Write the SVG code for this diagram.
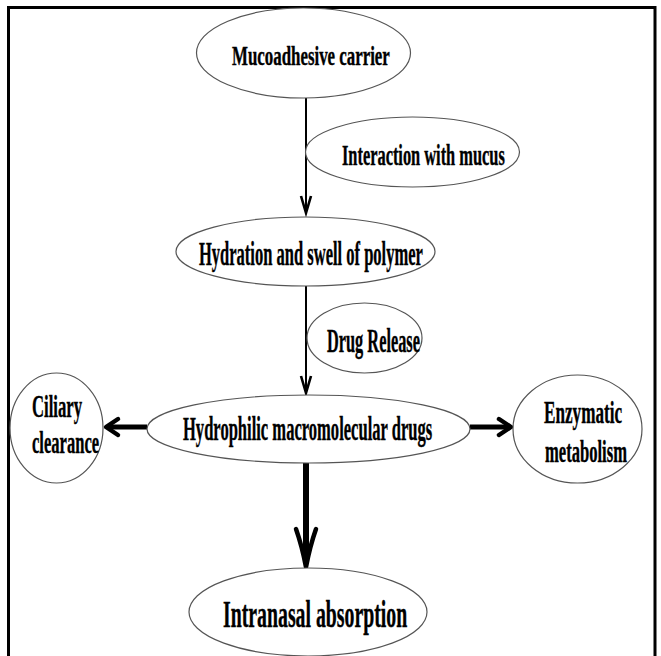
<svg xmlns="http://www.w3.org/2000/svg" width="661" height="656" viewBox="0 0 661 656">
<style>
.n{fill:#fff;stroke:#555;stroke-width:1.2}
.t{font-family:"Liberation Serif","Times New Roman",serif;font-weight:bold;fill:#000;stroke:#000;stroke-width:0.4;text-anchor:start}
.thin{stroke:#000;stroke-width:2;fill:none}
.head{stroke:#000;stroke-width:2.6;fill:none;stroke-linejoin:miter;stroke-linecap:butt}
.thick{stroke:#000;stroke-width:5;fill:none}
.thickhead{stroke:#000;stroke-width:4.5;fill:none;stroke-linecap:round;stroke-linejoin:round}
</style>
<rect width="661" height="656" fill="#fff"/>
<path d="M8.5,656 V7.5 H655 V656" fill="none" stroke="#000" stroke-width="3"/>
<g id="connectors">
  <line class="thin" x1="306" y1="98" x2="306" y2="212"/>
  <path class="head" d="M301,196 L306,213 L311,196"/>
  <line class="thin" x1="306" y1="286" x2="306" y2="392"/>
  <path class="head" d="M301,376 L306,393 L311,376"/>
  <line class="thick" x1="147" y1="427" x2="108" y2="427"/>
  <path class="thickhead" d="M118,419 L106,427 L118,435"/>
  <line class="thick" x1="470" y1="427" x2="508" y2="427"/>
  <path class="thickhead" d="M499,419 L511,427 L499,435"/>
  <line stroke="#000" stroke-width="6" x1="306" y1="463" x2="306" y2="560"/>
  <path class="thickhead" d="M296,529 Q302,546 306,567 Q310,546 316,529"/>
</g>
<g id="mucoadhesive-carrier">
  <ellipse class="n" cx="303.5" cy="53" rx="107" ry="45"/>
  <text class="t" transform="translate(232,65) scale(0.55,1)" font-size="28" textLength="287" lengthAdjust="spacingAndGlyphs">Mucoadhesive carrier</text>
</g>
<g id="interaction-with-mucus">
  <ellipse class="n" cx="412.5" cy="152" rx="107" ry="35"/>
  <text class="t" transform="translate(342,165) scale(0.55,1)" font-size="30" textLength="296" lengthAdjust="spacingAndGlyphs">Interaction with mucus</text>
</g>
<g id="hydration">
  <ellipse class="n" cx="305.5" cy="251.5" rx="129.5" ry="34.5"/>
  <text class="t" transform="translate(199,265) scale(0.55,1)" font-size="34" textLength="407" lengthAdjust="spacingAndGlyphs">Hydration and swell of polymer</text>
</g>
<g id="drug-release">
  <ellipse class="n" cx="364.5" cy="338" rx="57.5" ry="35"/>
  <text class="t" transform="translate(327,352) scale(0.55,1)" font-size="33" textLength="169" lengthAdjust="spacingAndGlyphs">Drug Release</text>
</g>
<g id="hydrophilic-drugs">
  <ellipse class="n" cx="308.5" cy="429" rx="161.5" ry="34"/>
  <text class="t" transform="translate(183,440) scale(0.55,1)" font-size="34" textLength="453" lengthAdjust="spacingAndGlyphs">Hydrophilic macromolecular drugs</text>
</g>
<g id="ciliary-clearance">
  <ellipse class="n" cx="56.5" cy="428" rx="46.5" ry="55"/>
  <text class="t" transform="translate(32,417) scale(0.55,1)" font-size="32" textLength="91" lengthAdjust="spacingAndGlyphs">Ciliary</text>
  <text class="t" transform="translate(32,453) scale(0.55,1)" font-size="32" textLength="122" lengthAdjust="spacingAndGlyphs">clearance</text>
</g>
<g id="enzymatic-metabolism">
  <ellipse class="n" cx="577.5" cy="429" rx="64.5" ry="54"/>
  <text class="t" transform="translate(544,423) scale(0.55,1)" font-size="32" textLength="142" lengthAdjust="spacingAndGlyphs">Enzymatic</text>
  <text class="t" transform="translate(545,462) scale(0.55,1)" font-size="32" textLength="149" lengthAdjust="spacingAndGlyphs">metabolism</text>
</g>
<g id="intranasal-absorption">
  <ellipse class="n" cx="308" cy="612" rx="119" ry="44"/>
  <text class="t" transform="translate(223,627) scale(0.55,1)" font-size="38" textLength="335" lengthAdjust="spacingAndGlyphs">Intranasal absorption</text>
</g>
</svg>
